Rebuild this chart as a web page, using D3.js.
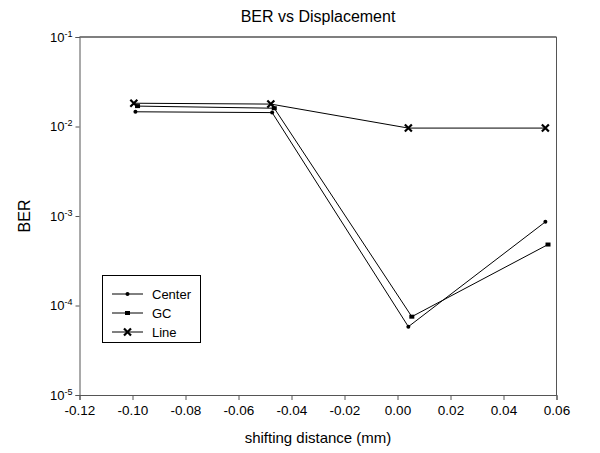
<!DOCTYPE html>
<html>
<head>
<meta charset="utf-8">
<script src="https://cdn.jsdelivr.net/npm/d3@7"></script>
<style>
  body { margin: 0; background: #fff; }
  svg text { font-family: "Liberation Sans", Arial, sans-serif; }
</style>
</head>
<body>
<svg id="chart" width="600" height="453"></svg>
<script>
// values
const centerX = [-0.0989, -0.0473, 0.0041, 0.0558];
const centerY = [0.0146, 0.0143, 5.8e-5, 8.6e-4];
const gcX = [-0.0981, -0.0465, 0.0054, 0.0568];
const gcY = [0.0169, 0.0160, 7.5e-5, 4.8e-4];
const lineX = [-0.0995, -0.0478, 0.0041, 0.0558];
const lineY = [0.0182, 0.0178, 0.0096, 0.0096];
const xTicks = [-0.12, -0.10, -0.08, -0.06, -0.04, -0.02, 0.00, 0.02, 0.04, 0.06];
const yTickExps = [-1, -2, -3, -4, -5];
const seriesNames = ["Center", "GC", "Line"];

const svg = d3.select("#chart");
const margins = { top: 37, right: 43.5, bottom: 58, left: 79.5 };
const width = 600, height = 453;

const xScale = d3.scaleLinear()
    .domain([-0.12, 0.06])
    .range([margins.left, width - margins.right]);
const yScale = d3.scaleLog()
    .domain([1e-5, 1e-1])
    .range([height - margins.bottom, margins.top]);

const axisColor = "#555";

// frame
svg.append("line")
    .attr("x1", xScale(-0.12)).attr("x2", xScale(0.06))
    .attr("y1", yScale(1e-1)).attr("y2", yScale(1e-1))
    .attr("stroke", "#000").attr("stroke-width", 1.2);
svg.append("line")
    .attr("x1", xScale(0.06)).attr("x2", xScale(0.06))
    .attr("y1", yScale(1e-1)).attr("y2", yScale(1e-5))
    .attr("stroke", axisColor);

// x axis
const xAxis = d3.axisBottom(xScale)
    .tickValues(xTicks)
    .tickSize(5)
    .tickPadding(5)
    .tickFormat(d3.format(".2f"));
const gx = svg.append("g")
    .attr("transform", `translate(0, ${yScale(1e-5)})`)
    .call(xAxis);
gx.select(".domain").attr("stroke", axisColor);
gx.selectAll(".tick line").attr("stroke", axisColor);
gx.selectAll(".tick text")
    .attr("font-size", "13.5px")
    .attr("fill", "#000")
    .style("font-family", "Liberation Sans, Arial, sans-serif")
    .text(d => d3.format(".2f")(d).replace("−", "-"));

// y axis
const yAxis = d3.axisLeft(yScale)
    .tickValues(yTickExps.map(e => Math.pow(10, e)))
    .tickSize(4)
    .tickFormat("");
const gy = svg.append("g")
    .attr("transform", `translate(${xScale(-0.12)}, 0)`)
    .call(yAxis);
gy.select(".domain").attr("stroke", axisColor);
gy.selectAll(".tick line").attr("stroke", axisColor);

yTickExps.forEach(e => {
    const t = svg.append("text")
        .attr("x", xScale(-0.12) - 7)
        .attr("y", yScale(Math.pow(10, e)) + 4.5)
        .attr("text-anchor", "end")
        .attr("font-size", "13px");
    t.append("tspan").text("10");
    t.append("tspan").attr("dy", -5).attr("font-size", "9px").text(String(e));
});

// titles
svg.append("text")
    .attr("x", 318).attr("y", 22)
    .attr("text-anchor", "middle")
    .attr("font-size", "16px")
    .text("BER vs Displacement");
svg.append("text")
    .attr("x", xScale(-0.03)).attr("y", 443)
    .attr("text-anchor", "middle")
    .attr("font-size", "15px")
    .text("shifting distance (mm)");
svg.append("text")
    .attr("transform", `translate(30, ${yScale(1e-3)}) rotate(-90)`)
    .attr("text-anchor", "middle")
    .attr("font-size", "16px")
    .text("BER");

// series
const series = [
    { name: seriesNames[0], xs: centerX, ys: centerY, marker: "dot" },
    { name: seriesNames[1], xs: gcX, ys: gcY, marker: "square" },
    { name: seriesNames[2], xs: lineX, ys: lineY, marker: "cross" }
];

function drawMarker(g, type, cx, cy) {
    if (type === "dot") {
        g.append("circle").attr("cx", cx).attr("cy", cy).attr("r", 2).attr("fill", "#000");
    } else if (type === "square") {
        g.append("rect").attr("x", cx - 2.5).attr("y", cy - 2).attr("width", 5).attr("height", 4).attr("fill", "#000");
    } else {
        const s = 3.5;
        g.append("path")
            .attr("d", `M${cx - s},${cy - s}L${cx + s},${cy + s}M${cx - s},${cy + s}L${cx + s},${cy - s}`)
            .attr("stroke", "#000").attr("stroke-width", 2.2).attr("fill", "none");
    }
}

const line = d3.line()
    .x(d => xScale(d[0]))
    .y(d => yScale(d[1]));

series.forEach(s => {
    const pts = s.xs.map((x, i) => [x, s.ys[i]]);
    svg.append("path")
        .datum(pts)
        .attr("fill", "none")
        .attr("stroke", "#000")
        .attr("stroke-width", 1)
        .attr("d", line);
});
series.forEach(s => {
    const g = svg.append("g");
    s.xs.forEach((x, i) => drawMarker(g, s.marker, xScale(x), yScale(s.ys[i])));
});

// legend
const legend = svg.append("g");
legend.append("rect")
    .attr("x", 102.5).attr("y", 275.5)
    .attr("width", 98).attr("height", 67)
    .attr("fill", "#fff").attr("stroke", "#000").attr("stroke-width", 1);
series.forEach((s, i) => {
    const y = 294 + i * 19;
    legend.append("line")
        .attr("x1", 112).attr("x2", 143)
        .attr("y1", y).attr("y2", y)
        .attr("stroke", "#000");
    drawMarker(legend, s.marker, 127.5, y);
    legend.append("text")
        .attr("x", 152).attr("y", y + 5)
        .attr("font-size", "13px")
        .text(s.name);
});
</script>
</body>
</html>
